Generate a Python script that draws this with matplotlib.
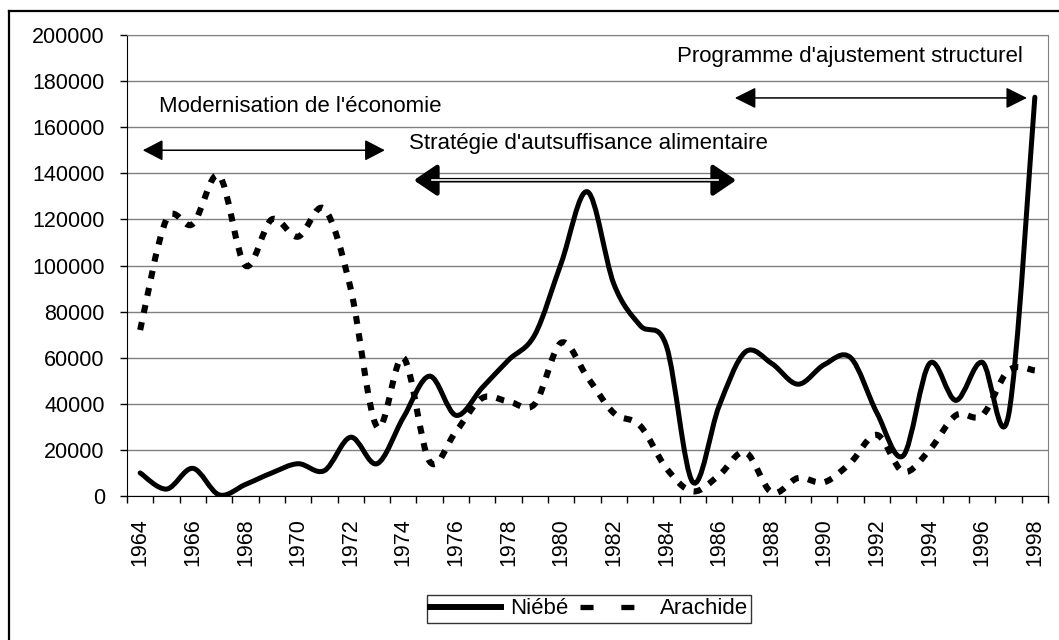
import numpy as np
import matplotlib
matplotlib.use('Agg')
import matplotlib.pyplot as plt
from matplotlib.path import Path
from matplotlib.patches import PathPatch
from matplotlib.lines import Line2D

plt.rcParams['font.family'] = ['Liberation Sans', 'DejaVu Sans']
plt.rcParams['lines.scale_dashes'] = False

years = list(range(1964, 1999))
niebe = [10000, 3000, 12000, 500, 5000, 10000, 14000, 11000, 25500, 14000,
         34000, 52000, 35000, 47000, 59000, 70000, 101000, 132000, 92000, 74000,
         65000, 6000, 39000, 62500, 57500, 48500, 57000, 60000, 36000, 17500,
         57500, 41500, 58000, 35000, 173000]
arachide = [72000, 120000, 118000, 139000, 100000, 120000, 112500, 124500, 90000, 30000,
            60000, 15000, 28000, 42500, 41000, 40000, 66500, 51500, 36000, 30500,
            12000, 2000, 9000, 19000, 1500, 7800, 6000, 14500, 26500, 10500,
            20000, 35000, 35000, 54500, 54500]
yticks = list(range(0, 200001, 20000))
periods = [("Modernisation de l'économie", 1964.7, 168800),
           ("Stratégie d'autsuffisance alimentaire", 1974.2, 153000),
           ("Programme d'ajustement structurel", 1984.4, 190500)]


def smooth_path(xs, ys):
    # Excel-like smoothed line: cubic bezier through every point
    pts = np.column_stack([xs, ys]).astype(float)
    n = len(pts)
    verts = [pts[0]]
    codes = [Path.MOVETO]
    for i in range(n - 1):
        p0 = pts[max(i - 1, 0)]
        p1 = pts[i]
        p2 = pts[i + 1]
        p3 = pts[min(i + 2, n - 1)]
        verts += [p1 + (p2 - p0) / 6.0, p2 - (p3 - p1) / 6.0, p2]
        codes += [Path.CURVE4] * 3
    return Path(verts, codes)


fig = plt.figure(figsize=(10.59, 6.4), dpi=100)
ax = fig.add_axes([127 / 1059, 1 - 496 / 640, 921 / 1059, 461 / 640])

x = np.arange(len(years))
ax.add_patch(PathPatch(smooth_path(x, niebe), fill=False, edgecolor='black',
                       lw=3.6, capstyle='round', joinstyle='round', zorder=3))
ax.add_patch(PathPatch(smooth_path(x, arachide), fill=False, edgecolor='black',
                       lw=4.4, linestyle=(0, (5.8, 6.8)), capstyle='butt', zorder=3))

ax.set_xlim(-0.5, len(years) - 0.5)
ax.set_ylim(0, 200000)
ax.set_yticks(yticks)
ax.set_yticklabels([str(v) for v in yticks], fontsize=15.5)
ax.set_xticks(x[::2])
ax.set_xticklabels([str(y) for y in years[::2]], rotation=90, fontsize=15.5)
ax.set_xticks(np.arange(-0.5, len(years), 1.0), minor=True)
ax.tick_params(axis='x', which='major', length=0, pad=16)
ax.tick_params(axis='x', which='minor', length=5, width=1, direction='out')
ax.tick_params(axis='y', length=5, width=1, direction='out', pad=11)
ax.yaxis.grid(True, color='#808080', lw=1)
ax.set_axisbelow(True)
for s in ['top', 'right']:
    ax.spines[s].set_color('#808080')
for s in ['left', 'bottom']:
    ax.spines[s].set_color('black')

def cat(yr):
    return yr - years[0]

for label, tx, ty in periods:
    ax.text(cat(tx), ty, label, fontsize=16, va='center', ha='left')

# arrows
ax.annotate('', xy=(cat(1964.1), 150000), xytext=(cat(1973.3), 150000),
            arrowprops=dict(arrowstyle='<|-|>,head_length=12.5,head_width=6.5',
                            mutation_scale=1, color='black', lw=1.1, shrinkA=0, shrinkB=0))
ax.annotate('', xy=(cat(1974.4), 137000), xytext=(cat(1986.65), 137000),
            arrowprops=dict(arrowstyle='<|-|>,head_length=14,head_width=9.5',
                            mutation_scale=1, color='black', lw=3.3, shrinkA=0, shrinkB=0))
ax.plot([cat(1974.4) + 0.7, cat(1986.65) - 0.7], [137000, 137000], color='white', lw=1.2, zorder=4)
ax.annotate('', xy=(cat(1986.6), 172700), xytext=(cat(1997.7), 172700),
            arrowprops=dict(arrowstyle='<|-|>,head_length=13,head_width=6.5',
                            mutation_scale=1, color='black', lw=1.1, shrinkA=0, shrinkB=0))

handles = [Line2D([], [], color='black', lw=4.3),
           Line2D([], [], color='black', lw=3.8, linestyle=(0, (9.4, 20)), solid_capstyle='butt',
                  dash_capstyle='butt')]
leg = fig.legend(handles, ['Niébé', 'Arachide'], loc='center', bbox_to_anchor=(589 / 1059, 1 - 609 / 640),
                 ncol=2, fontsize=16, frameon=True, fancybox=False, handlelength=3.2,
                 handletextpad=0.4, columnspacing=0.5, borderpad=0.15)
leg.get_frame().set_edgecolor('black')
leg.get_frame().set_linewidth(1)

# outer frame (top and left edges)
fig.add_artist(Line2D([9 / 1059, 1], [1 - 11 / 640, 1 - 11 / 640], color='black', lw=1.6,
                      transform=fig.transFigure))
fig.add_artist(Line2D([9 / 1059, 9 / 1059], [0, 1 - 11 / 640], color='black', lw=1.6,
                      transform=fig.transFigure))

fig.savefig('out.png', dpi=100)
